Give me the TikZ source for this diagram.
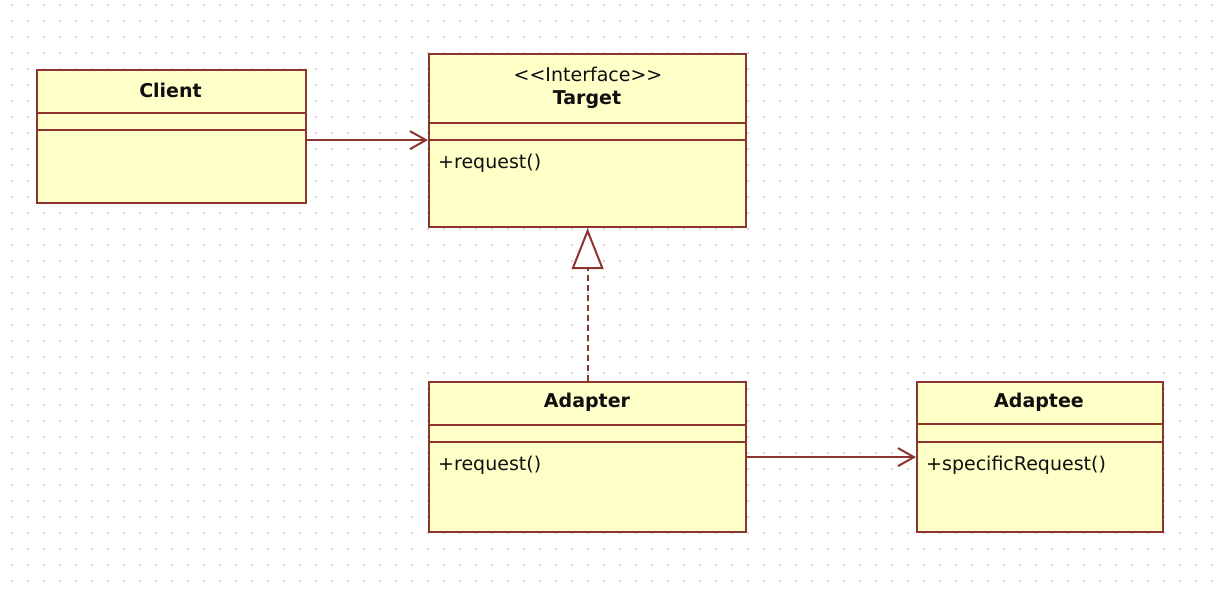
\documentclass[tikz,border=0pt]{standalone}
\usepackage{fontspec}
\setmainfont{DejaVu Sans}
\usetikzlibrary{arrows.meta}
\definecolor{umlline}{RGB}{140,52,48}
\definecolor{umlfill}{RGB}{255,255,200}
\definecolor{griddot}{RGB}{200,200,200}
\definecolor{umltext}{RGB}{15,15,15}
\tikzset{
  umlbox/.style={draw=umlline, fill=umlfill, line width=2.2pt, inner sep=0pt, anchor=north west},
  compart/.style={draw=umlline, line width=2.2pt},
  clsname/.style={font=\fontsize{19}{22}\selectfont\bfseries, text=umltext, inner sep=0pt},
  stereo/.style={font=\fontsize{19}{22}\selectfont, text=umltext, inner sep=0pt},
  oper/.style={font=\fontsize{19}{22}\selectfont, text=umltext, inner sep=0pt, anchor=west},
  assoc/.style={draw=umlline, line width=2pt, -{Straight Barb[length=16pt, width=18pt, line width=2pt]}},
  realize/.style={draw=umlline, line width=2pt, dash pattern=on 6pt off 4pt,
    -{Triangle[open, length=41pt, width=32pt, line width=2pt, fill=white]}}
}
\begin{document}
\begin{tikzpicture}[x=1pt, y=-1pt]
\useasboundingbox (0,0) rectangle (1226,592);
\fill[white] (0,0) rectangle (1226,592);
% dot grid
\foreach \i in {0,...,75}{
  \foreach \j in {0,...,36}{
    \fill[griddot] (12+16*\i, 5+16*\j) circle[radius=1.1pt];
  }
}
% Client
\node[umlbox, minimum width=269pt, minimum height=133pt] (client) at (36,69) {};
\draw[compart] (36,113) -- (305,113);
\draw[compart] (36,130) -- (305,130);
\node[clsname] (clientname) at (170.5,90) {Client};
% Target
\node[umlbox, minimum width=317pt, minimum height=173pt] (target) at (428,53) {};
\draw[compart] (428,123) -- (745,123);
\draw[compart] (428,140) -- (745,140);
\node[stereo] (targetstereo) at (588,74) {<{}<Interface>{}>};
\node[clsname] (targetname) at (587,100) {Target};
\node[oper] (targetop) at (438,163) {+request()};
% Adapter
\node[umlbox, minimum width=317pt, minimum height=150pt] (adapter) at (428,381) {};
\draw[compart] (428,425) -- (745,425);
\draw[compart] (428,442) -- (745,442);
\node[clsname] (adaptername) at (587,402.5) {Adapter};
\node[oper] (adapterop) at (438,465) {+request()};
% Adaptee
\node[umlbox, minimum width=246pt, minimum height=150pt] (adaptee) at (916,381) {};
\draw[compart] (916,424) -- (1162,424);
\draw[compart] (916,442) -- (1162,442);
\node[clsname] (adapteename) at (1039,402) {Adaptee};
\node[oper] (adapteeop) at (926,465.5) {+specificRequest()};
% connectors
\draw[assoc] ([yshift=-3.5pt]client.east) -- ([yshift=-3.5pt]client.east -| target.west);
\draw[assoc] (adapter.east) -- (adapter.east -| adaptee.west);
\draw[realize] (adapter.north) -- (target.south);
\end{tikzpicture}
\end{document}
